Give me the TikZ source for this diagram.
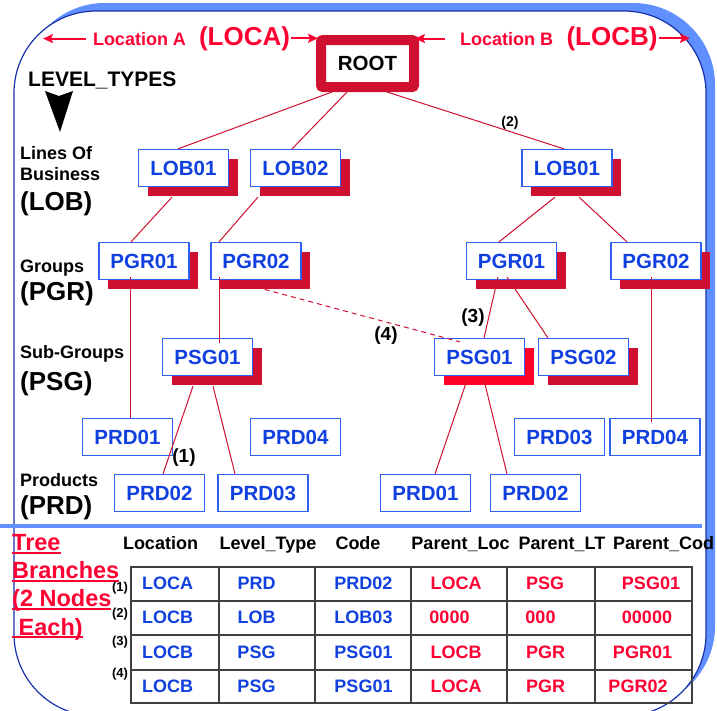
\documentclass[tikz,border=0pt]{standalone}
\usepackage{fontspec}
\setmainfont{Liberation Sans}
\usetikzlibrary{arrows.meta,positioning,calc,shadows}
\definecolor{crimson}{RGB}{208,16,48}
\definecolor{brightred}{RGB}{255,0,40}
\definecolor{txtred}{RGB}{255,0,51}
\definecolor{txtblue}{RGB}{16,64,224}
\definecolor{boxblue}{RGB}{48,96,240}
\definecolor{framedark}{RGB}{24,48,170}
\definecolor{frameshade}{RGB}{96,144,255}
\definecolor{tblgray}{RGB}{64,64,64}
% underline with a thicker rule
\newcommand{\redul}[1]{\setbox0\hbox{#1}\rlap{\rule[-3.2pt]{\wd0}{1.8pt}}\box0}

\begin{document}
\begin{tikzpicture}[x=1pt,y=-1pt,
    nodebox/.style={draw=boxblue,line width=1.2pt,fill=white,minimum width=90pt,minimum height=37pt,
      inner sep=0pt,text=txtblue,font=\bfseries\fontsize{20.5}{24}\selectfont},
    shbox/.style={nodebox,general shadow={fill=#1,shadow xshift=9pt,shadow yshift=-9pt}},
    shbox/.default=crimson,
    link/.style={draw=crimson,line width=1pt},
    locarrow/.style={draw=txtred,line width=2pt,-{Stealth[length=10pt,width=9pt,inset=2pt]}},
    loctext/.style={anchor=base,text=txtred,inner sep=0pt,font=\bfseries\fontsize{18}{21}\selectfont},
    loccode/.style={anchor=base,text=txtred,inner sep=0pt,font=\bfseries\fontsize{26}{30}\selectfont},
    lvl/.style={anchor=base west,inner sep=0pt,font=\bfseries\fontsize{18}{21}\selectfont},
    lvlcode/.style={anchor=base west,inner sep=0pt,font=\bfseries\fontsize{26}{30}\selectfont},
    numlbl/.style={inner sep=0pt,font=\bfseries\fontsize{19}{22}\selectfont},
    hdr/.style={anchor=base,inner sep=0pt,font=\bfseries\fontsize{18}{21}\selectfont},
    rowtag/.style={inner sep=0pt,font=\bfseries\fontsize{13}{15}\selectfont},
    cellblue/.style={inner sep=0pt,text=txtblue,font=\bfseries\fontsize{18}{21}\selectfont},
    cellred/.style={inner sep=0pt,text=txtred,font=\bfseries\fontsize{18}{21}\selectfont},
    tbtext/.style={anchor=base west,inner sep=0pt,text=txtred,font=\bfseries\fontsize{23.5}{28}\selectfont},
    tblline/.style={draw=tblgray,line width=1.8pt}]
  \useasboundingbox (0,0) rectangle (717,710);
  % frame
  \fill[frameshade,rounded corners=82pt] (23,3) rectangle (715,708);
  \filldraw[fill=white,draw=framedark,line width=1.2pt,rounded corners=82pt] (14,11) rectangle (706,716);
  \draw[frameshade,line width=4pt] (0,525.5) -- (702,525.5);

  % root and locations
  \node[draw=crimson,line width=10pt,fill=white,rounded corners=2pt,minimum width=93pt,minimum height=47pt,
    font=\bfseries\fontsize{20.5}{24}\selectfont] (root) at (367.5,63.5) {ROOT};
  \node[loctext] (loca) at (139.5,45) {Location A};
  \node[loccode] (locacode) at (244.5,45) {(LOCA)};
  \node[loctext] (locb) at (506.5,45) {Location B};
  \node[loccode] (locbcode) at (612,45) {(LOCB)};
  \coordinate (edgea) at (43,37);
  \coordinate (edgeb) at (690,37);
  \draw[locarrow] ($(loca.west)+(-7,0)$) -- (loca.west -| edgea);
  \draw[locarrow] ($(locacode.east)+(1,0)$) -- ($(locacode.east -| root.west)+(2,0)$);
  \draw[locarrow] ($(locb.west)+(-15,0)$) -- ($(locb.west -| root.east)+(-4,0)$);
  \draw[locarrow] ($(locbcode.east)+(1,0)$) -- (locbcode.east -| edgeb);

  % level types
  \node[lvl,font=\bfseries\fontsize{21}{24}\selectfont] (lvtypes) at (28,86) {LEVEL\_TYPES};
  \fill (45,91) -- (59,96) -- (73,91) -- (60,132) -- cycle;
  \node[lvl] (lvlob1) at (20,159) {Lines Of};
  \node[lvl] (lvlob2) at (20,180) {Business};
  \node[lvlcode] (lvlob3) at (20,210) {(LOB)};
  \node[lvl] (lvpgr1) at (20,272.5) {Groups};
  \node[lvlcode] (lvpgr2) at (20,300) {(PGR)};
  \node[lvl] (lvpsg1) at (20,358) {Sub-Groups};
  \node[lvlcode] (lvpsg2) at (20,390) {(PSG)};
  \node[lvl] (lvprd1) at (20,486.5) {Products};
  \node[lvlcode] (lvprd2) at (20,514) {(PRD)};

  % tree nodes
  \node[shbox] (lobl1) at (183.5,168) {LOB01};
  \node[shbox] (lobl2) at (295.5,168) {LOB02};
  \node[shbox] (lobr1) at (567,168) {LOB01};
  \node[shbox] (pgrl1) at (144,261) {PGR01};
  \node[shbox] (pgrl2) at (256,261) {PGR02};
  \node[shbox] (pgrr1) at (511.5,261) {PGR01};
  \node[shbox] (pgrr2) at (656,261) {PGR02};
  \node[shbox] (psgl1) at (207.5,357) {PSG01};
  \node[shbox=brightred] (psgr1) at (479.5,357) {PSG01};
  \node[shbox] (psgr2) at (583.5,357) {PSG02};
  \node[nodebox] (prdl1) at (127.5,437) {PRD01};
  \node[nodebox] (prdl4) at (295.5,437) {PRD04};
  \node[nodebox] (prdl2) at (159.5,493) {PRD02};
  \node[nodebox] (prdl3) at (263,493) {PRD03};
  \node[nodebox] (prdr3) at (559.5,437) {PRD03};
  \node[nodebox] (prdr4) at (655,437) {PRD04};
  \node[nodebox] (prdr1) at (425.5,493) {PRD01};
  \node[nodebox] (prdr2) at (535.5,493) {PRD02};

  % connectors
  \draw[link] ($(root.south)+(-35.5,0)$) -- ($(lobl1.north)+(-5.5,0)$);
  \draw[link] ($(root.south)+(-20.5,0)$) -- ($(lobl2.north)+(-3.5,0)$);
  \draw[link] ($(root.south)+(19.5,0)$) -- ($(lobr1.north)+(-3,0)$);
  \draw[link] ($(lobl1.south)+(-11.5,10)$) -- ($(pgrl1.north)+(-13,0)$);
  \draw[link] ($(lobl2.south)+(-37.5,10)$) -- ($(pgrl2.north)+(-37,0)$);
  \draw[link] ($(lobr1.south)+(-12,10)$) -- ($(pgrr1.north)+(-12.5,0)$);
  \draw[link] ($(lobr1.south)+(12,10)$) -- ($(pgrr2.north)+(-29,0)$);
  \draw[link] ($(pgrl1.south)+(-14,-3)$) -- ($(prdl1.north)+(2.5,0)$);
  \draw[link] ($(pgrl2.south)+(-37,-3)$) -- ($(psgl1.north)+(11.5,5)$);
  \draw[link] ($(pgrr1.south)+(-13.5,-3)$) -- ($(psgr1.north)+(4.5,0)$);
  \draw[link] ($(pgrr1.south)+(-4.5,-3)$) -- ($(psgr2.north)+(-35.5,0)$);
  \draw[link] ($(pgrr2.south)+(-5,-3)$) -- ($(prdr4.north)+(-4,4)$);
  \draw[link] ($(psgl1.south)+(-14.5,10)$) -- ($(prdl2.north)+(3.5,0)$);
  \draw[link] ($(psgl1.south)+(5.5,10)$) -- ($(prdl3.north)+(-28,0)$);
  \draw[link] ($(psgr1.south)+(-12.5,4)$) -- ($(prdr1.north)+(9.5,0)$);
  \draw[link] ($(psgr1.south)+(4.5,4)$) -- ($(prdr2.north)+(-28.5,0)$);
  \draw[link,dash pattern=on 5pt off 4pt] ($(pgrl2.south)+(-26,0)$) -- ($(psgr1.north)+(-19.5,4)$);
  \node[numlbl] (n1) at (184,458) {(1)};
  \node[numlbl,font=\bfseries\fontsize{14}{16}\selectfont] (n2) at (510,123) {(2)};
  \node[numlbl] (n3) at (473,318) {(3)};
  \node[numlbl] (n4) at (386,336) {(4)};

  % tree branches table
  \node[tbtext] (tb1) at (12,550.5) {\redul{Tree}};
  \node[tbtext] (tb2) at (12,578.5) {\redul{Branches}};
  \node[tbtext] (tb3) at (12,606.5) {\redul{(2 Nodes}};
  \node[tbtext] (tb4) at (12,635) {\redul{\ Each)}};
  \node[hdr] (hloc) at (160.5,549) {Location};
  \node[hdr] (hlt) at (268,549) {Level\_Type};
  \node[hdr] (hcode) at (358,549) {Code};
  \node[hdr] (hploc) at (460.5,549) {Parent\_Loc};
  \node[hdr] (hplt) at (562,549) {Parent\_LT};
  \node[hdr,anchor=base west] (hpcode) at (613,549) {Parent\_Cod};
  \draw[tblline] (131,567) rectangle (692,703);
  \foreach \yy in {601,635,670} \draw[tblline] (131,\yy) -- (692,\yy);
  \foreach \xx in {219,315,411,507,595} \draw[tblline] (\xx,567) -- (\xx,703);
  \foreach \r/\y/\ym/\la/\lb/\lc/\pa/\pb/\pc/\xa/\xb/\xc in
    {1/583/588/LOCA/PRD/PRD02/LOCA/PSG/PSG01/456/545/651,
     2/617/614/LOCB/LOB/LOB03/0000/000/00000/449.5/540.5/647,
     3/652/642/LOCB/PSG/PSG01/LOCB/PGR/PGR01/456/545.5/642.5,
     4/686/674/LOCB/PSG/PSG01/LOCA/PGR/PGR02/456/545.5/638}{
    \node[rowtag] (tag\r) at (120,\ym) {(\r)};
    \node[cellblue] (loc\r) at (167.5,\y) {\la};
    \node[cellblue] (lt\r) at (256.5,\y) {\lb};
    \node[cellblue] (code\r) at (363.5,\y) {\lc};
    \node[cellred] (ploc\r) at (\xa,\y) {\pa};
    \node[cellred] (plt\r) at (\xb,\y) {\pb};
    \node[cellred] (pcode\r) at (\xc,\y) {\pc};
  }
\end{tikzpicture}
\end{document}
